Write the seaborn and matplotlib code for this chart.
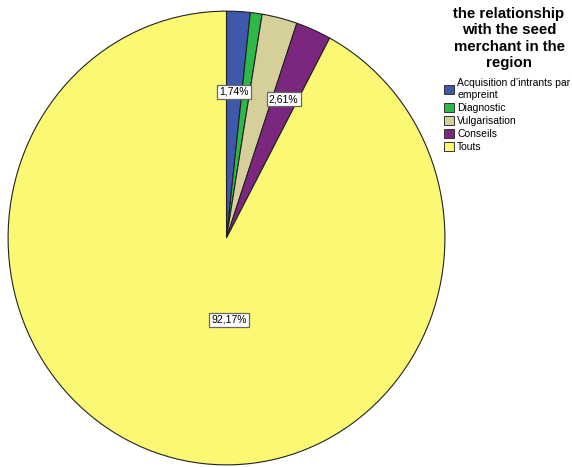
import matplotlib
matplotlib.use("Agg")
import matplotlib.pyplot as plt
import seaborn as sns
import numpy as np
from matplotlib.patches import Patch

sns.set_style("white")
plt.rcParams['font.family'] = ['Liberation Sans', 'DejaVu Sans']
plt.rcParams['text.color'] = 'black'

categories = ["Acquisition d\u2019intrants par\nempreint", "Diagnostic", "Vulgarisation", "Conseils", "Touts"]
values = [1.74, 0.87, 2.61, 2.61, 92.17]
colors = ["#3E58AC", "#2EB848", "#D5D09A", "#7B277F", "#FBF873"]
shown_labels = ["1,74%", None, None, "2,61%", "92,17%"]
label_pos = [(0.033, 0.645), None, None, (0.262, 0.612), (0.012, -0.36)]
title = "the relationship\nwith the seed\nmerchant in the\nregion"

fig = plt.figure(figsize=(5.72, 4.67), dpi=100)
ax = fig.add_axes([7/572, 1/467, 439/572, 456/467])
wedges, _ = ax.pie(values, colors=colors, startangle=90, counterclock=False,
                   radius=1.0, wedgeprops=dict(edgecolor="#222222", linewidth=0.8))
ax.set_xlim(-1.005, 1.005)
ax.set_ylim(-1.005, 1.005)
ax.set_aspect('auto')
ax.axis('off')

for lab, pos in zip(shown_labels, label_pos):
    if lab is None:
        continue
    ax.text(pos[0], pos[1], lab, ha='center', va='center', fontsize=7.5, color='black',
            bbox=dict(boxstyle='square,pad=0.2', facecolor='white', edgecolor='#666666', linewidth=0.9))

fig.text(509/572, 1 - 7/467, title, ha='center', va='top', fontsize=10.8, fontweight='bold',
         linespacing=1.22, color='black')

handles = [Patch(facecolor=c, edgecolor='#333333', linewidth=0.7) for c in colors]
fig.legend(handles, categories, loc='upper left', bbox_to_anchor=(444/572, 1 - 78/467),
           frameon=False, handlelength=0.95, handleheight=0.95, fontsize=7.5,
           labelspacing=0.3, handletextpad=0.3, borderpad=0, borderaxespad=0)

fig.savefig("out.png", dpi=100)
